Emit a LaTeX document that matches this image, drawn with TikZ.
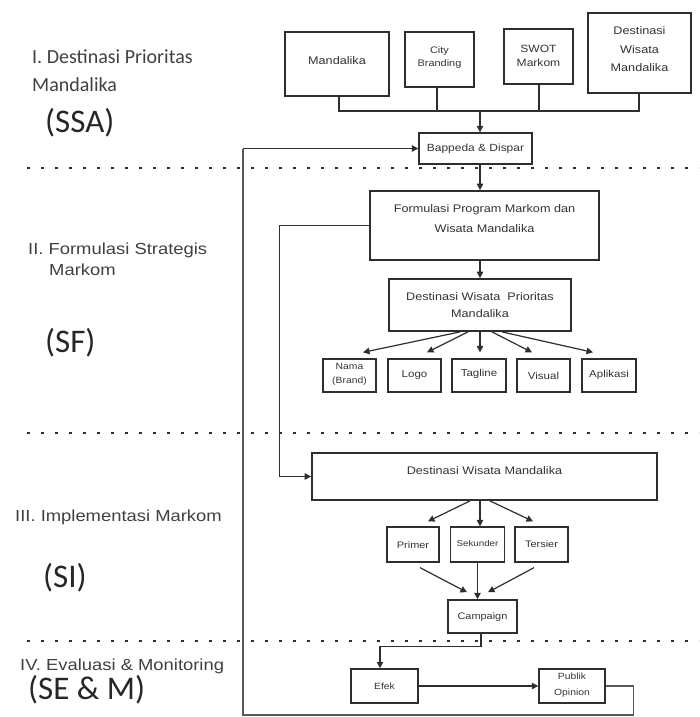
\documentclass[tikz,border=0pt]{standalone}
\usepackage{fontspec}
\setmainfont{Liberation Sans}
\newfontfamily\boxfnt{Liberation Sans}[FakeStretch=1.15]
\newfontfamily\calfnt{Carlito}
\usetikzlibrary{arrows.meta,calc}
\definecolor{ln}{HTML}{2E2E2E}
\definecolor{tx}{HTML}{333333}
\definecolor{lab}{HTML}{404040}
\begin{document}
\begin{tikzpicture}[x=1pt,y=-1pt,
  box/.style={draw=ln, line width=1.4pt, inner sep=0pt},
  heavy/.style={box, line width=2.1pt},
  txt/.style={inner sep=0pt, text=tx, align=center},
  arr/.style={draw=ln, line width=1.2pt, -{Triangle[length=6.5pt,width=6.5pt]}},
  plain/.style={draw=ln, line width=1.3pt},
  loopline/.style={draw=black!65, line width=1.2pt},
  sep/.style={draw=ln, line width=2.8pt, dash pattern=on 2.8pt off 11.2pt},
  big/.style={inner sep=0pt, anchor=west, text=black!85, font=\calfnt\fontsize{33}{36}\selectfont},
  head/.style={inner sep=0pt, anchor=west, text=lab, align=left, font=\boxfnt\fontsize{16}{20}\selectfont}
]
\useasboundingbox (0,0) rectangle (699,717);

% separators
\draw[sep] (27,168) -- (699,168);
\draw[sep] (27,433) -- (699,433);
\draw[sep] (27,641) -- (699,641);

% left labels
\node[inner sep=0pt, anchor=west, text=lab, font=\calfnt\fontsize{20}{24}\selectfont] (l1a) at (32,57) {I. Destinasi Prioritas};
\node[inner sep=0pt, anchor=west, text=lab, font=\calfnt\fontsize{20}{24}\selectfont] (l1b) at (32,85) {Mandalika};
\node[big] (l1c) at (45,123) {(SSA)};
\node[head] (l2a) at (28,250) {II. Formulasi Strategis};
\node[head] (l2b) at (49,270) {Markom};
\node[big] (l2c) at (45,343) {(SF)};
\node[head] (l3a) at (15,517) {III. Implementasi Markom};
\node[big] (l3c) at (43,578) {(SI)};
\node[head] (l4a) at (20,666) {IV. Evaluasi \& Monitoring};
\node[big] (l4c) at (28,690) {(SE \& M)};

% top boxes
\node[heavy, minimum width=104pt, minimum height=64pt] (mand) at (337,64) {};
\node[txt, font=\boxfnt\fontsize{11}{13}\selectfont] (tmand) at (337,61) {Mandalika};
\node[box, minimum width=69pt, minimum height=55pt] (city) at (439.5,59.5) {};
\node[txt, font=\boxfnt\fontsize{9.5}{13}\selectfont] (tcity) at (439.5,58) {City\\Branding};
\node[box, minimum width=69pt, minimum height=55pt] (swot) at (538.5,56.5) {};
\node[txt, font=\boxfnt\fontsize{10.5}{14}\selectfont] (tswot) at (538.5,56) {SWOT\\Markom};
\node[heavy, minimum width=103pt, minimum height=80pt] (dest) at (639.5,53) {};
\node[txt, font=\boxfnt\fontsize{11}{18.5}\selectfont] (tdest) at (639.5,49.5) {Destinasi\\Wisata\\Mandalika};

\coordinate (bus) at (480,110);
\draw[plain] ($(mand.south)+(2,0)$) -- ($(mand.south)+(2,14)$) -- ($(dest.south)+(-0.5,17)$) -- ($(dest.south)+(-0.5,0)$);
\draw[plain] ($(city.south)+(-2.5,0)$) -- ($(city.south)+(-2.5,23)$);
\draw[plain] ($(swot.south)+(0.5,0)$) -- ($(swot.south)+(0.5,26)$);

\node[box, line width=1.5pt, minimum width=113pt, minimum height=31pt] (bapp) at (475.5,148.5) {};
\node[txt, font=\boxfnt\fontsize{10.4}{12}\selectfont] (tbapp) at (475.5,149) {Bappeda \& Dispar};
\draw[arr] (bus) -- (bapp.north -| bus);

% section II
\node[box, line width=1.8pt, minimum width=229pt, minimum height=69pt] (form) at (484.5,225.5) {};
\node[txt, font=\boxfnt\fontsize{11}{20}\selectfont] (tform) at (484.5,219) {Formulasi Program Markom dan\\Wisata Mandalika};
\draw[arr] (bapp.south -| bus) -- (form.north -| bus);

\node[box, line width=1.8pt, minimum width=182pt, minimum height=52pt] (dwp) at (480,305) {};
\node[txt, font=\boxfnt\fontsize{11}{17}\selectfont] (tdwp) at (480,305.5) {Destinasi Wisata\ \ Prioritas\\Mandalika};
\draw[arr] (form.south -| dwp.south) -- (dwp.north);

\node[box, line width=1.3pt, minimum width=53pt, minimum height=33pt] (nama) at (349.5,375.5) {};
\node[txt, font=\boxfnt\fontsize{9}{14}\selectfont] (tnama) at (349.5,374) {Nama\\(Brand)};
\node[box, line width=1.3pt, minimum width=53pt, minimum height=33pt] (logo) at (414.5,375.5) {};
\node[txt, font=\boxfnt\fontsize{10}{12}\selectfont] (tlogo) at (414.5,375) {Logo};
\node[box, line width=1.3pt, minimum width=54pt, minimum height=33pt] (tag) at (479,375.5) {};
\node[txt, font=\boxfnt\fontsize{10}{12}\selectfont] (ttag) at (479,374) {Tagline};
\node[box, line width=1.3pt, minimum width=53pt, minimum height=33pt] (vis) at (543.5,375.5) {};
\node[txt, font=\boxfnt\fontsize{10}{12}\selectfont] (tvis) at (543.5,376) {Visual};
\node[box, line width=1.3pt, minimum width=54pt, minimum height=33pt] (apl) at (609,375.5) {};
\node[txt, font=\boxfnt\fontsize{10}{12}\selectfont] (tapl) at (609,375) {Aplikasi};

\draw[arr] ($(dwp.south)+(-20,0)$) -- ($(nama.north)+(13.5,-6)$);
\draw[arr] ($(dwp.south)+(-12,0)$) -- ($(logo.north)+(12.5,-6)$);
\draw[arr] (dwp.south) -- ($(tag.north)+(1,-6)$);
\draw[arr] ($(dwp.south)+(12,0)$) -- ($(vis.north)+(-11.5,-6)$);
\draw[arr] ($(dwp.south)+(22,0)$) -- ($(apl.north)+(-16,-6)$);

% section III
\node[box, line width=1.8pt, minimum width=345pt, minimum height=47pt] (dwm) at (484.5,476.5) {};
\node[txt, font=\boxfnt\fontsize{11}{13}\selectfont] (tdwm) at (484.5,471) {Destinasi Wisata Mandalika};
\draw[arr] (form.west) -- ++(-90,0) |- (dwm.west);

\node[box, line width=1.3pt, minimum width=52pt, minimum height=35pt] (prim) at (413,544.5) {};
\node[txt, font=\boxfnt\fontsize{9.5}{12}\selectfont] (tprim) at (413,545) {Primer};
\node[box, line width=1.3pt, minimum width=54pt, minimum height=35pt] (sek) at (477.5,544.5) {};
\node[txt, font=\boxfnt\fontsize{8.5}{12}\selectfont] (tsek) at (477.5,543) {Sekunder};
\node[box, line width=1.3pt, minimum width=53pt, minimum height=35pt] (ters) at (541.5,544.5) {};
\node[txt, font=\boxfnt\fontsize{9.5}{12}\selectfont] (tters) at (541.5,544) {Tersier};

\draw[arr] ($(dwm.south)+(-14.5,0)$) -- ($(prim.north)+(15,-5)$);
\draw[arr] ($(dwm.south)+(-4.5,0)$) -- ($(sek.north)+(2.5,0)$);
\draw[arr] ($(dwm.south)+(5.5,0)$) -- ($(ters.north)+(-8.5,-5)$);

\node[box, line width=1.5pt, minimum width=69pt, minimum height=33pt] (camp) at (482.5,616.5) {};
\node[txt, font=\boxfnt\fontsize{9.5}{12}\selectfont] (tcamp) at (482.5,617) {Campaign};

\draw[arr] ($(prim.south)+(7,5)$) -- ($(camp.north)+(-15.5,-7)$);
\draw[arr] (sek.south) -- ($(camp.north)+(-5,0)$);
\draw[arr] ($(ters.south)+(-7.5,5)$) -- ($(camp.north)+(5.5,-7)$);

% section IV
\node[box, line width=1.5pt, minimum width=67pt, minimum height=34pt] (efek) at (384.5,686) {};
\node[txt, font=\boxfnt\fontsize{9}{12}\selectfont] (tefek) at (384.5,686) {Efek};
\node[box, line width=1.5pt, minimum width=66pt, minimum height=34pt] (pub) at (572,686) {};
\node[txt, font=\boxfnt\fontsize{9}{16}\selectfont] (tpub) at (572,685) {Publik\\Opinion};

\draw[arr] ($(camp.south)+(-1.5,0)$) -- ++(0,13) -| ($(efek.north)+(-4.5,0)$);
\draw[arr] (efek) -- (pub);

% feedback loop
\coordinate (loopb) at (243,715);
\draw[loopline] (pub.east) -- ++(28,0) |- (loopb) -- (loopb |- bapp.west);
\draw[arr] (loopb |- bapp.west) -- (bapp.west);
\end{tikzpicture}
\end{document}
